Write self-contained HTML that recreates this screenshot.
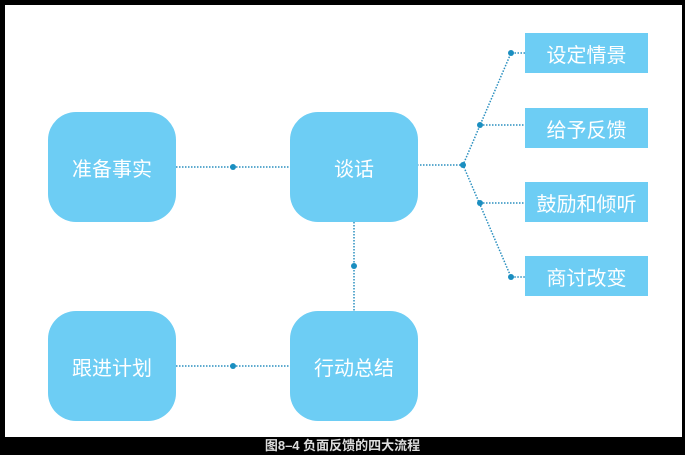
<!DOCTYPE html>
<html><head><meta charset="utf-8"><style>
body{margin:0;width:685px;height:455px;background:#000;position:relative;overflow:hidden;font-family:"Liberation Sans","Noto Sans CJK SC",sans-serif}
#w{position:absolute;left:5px;top:5px;width:677px;height:432px;background:#fff}
.b{position:absolute;background:#6dcdf4;color:#fff;display:flex;align-items:center;justify-content:center;font-size:20px}
.r{border-radius:28px;width:128px;height:110px}
.s{width:123px;height:40px;font-size:20px}
#cap{position:absolute;left:0;top:437px;width:685px;text-align:center;color:#ddd;font-size:13px;font-weight:bold;line-height:18px}
svg{position:absolute;left:0;top:0}
</style></head><body>
<div id="w"></div>
<svg width="685" height="455">
<g stroke="#2a8fbf" stroke-width="1.5" stroke-dasharray="1.5 1.5" fill="none">
<line x1="176" y1="167" x2="290" y2="167"/>
<line x1="176" y1="366" x2="290" y2="366"/>
<line x1="354" y1="222" x2="354" y2="311"/>
<line x1="417" y1="165" x2="463" y2="165"/>
<polyline points="525,53 511,53 463,165 511,277 525,277"/>
<line x1="480" y1="125" x2="525" y2="125"/>
<line x1="480" y1="203" x2="525" y2="203"/>
</g>
<g fill="#1a8ec0">
<circle cx="233" cy="167" r="3"/><circle cx="233" cy="366" r="3"/><circle cx="354" cy="266" r="3"/>
<circle cx="463" cy="165" r="3"/><circle cx="511" cy="53" r="3"/><circle cx="480" cy="125" r="3"/>
<circle cx="480" cy="203" r="3"/><circle cx="511" cy="277" r="3"/>
</g>
</svg>
<div class="b r" style="left:48px;top:112px">准备事实</div>
<div class="b r" style="left:290px;top:112px">谈话</div>
<div class="b r" style="left:48px;top:311px">跟进计划</div>
<div class="b r" style="left:290px;top:311px">行动总结</div>
<div class="b s" style="left:525px;top:33px">设定情景</div>
<div class="b s" style="left:525px;top:108px">给予反馈</div>
<div class="b s" style="left:525px;top:182px">鼓励和倾听</div>
<div class="b s" style="left:525px;top:256px">商讨改变</div>
<div id="cap">图8–4 负面反馈的四大流程</div>
</body></html>
